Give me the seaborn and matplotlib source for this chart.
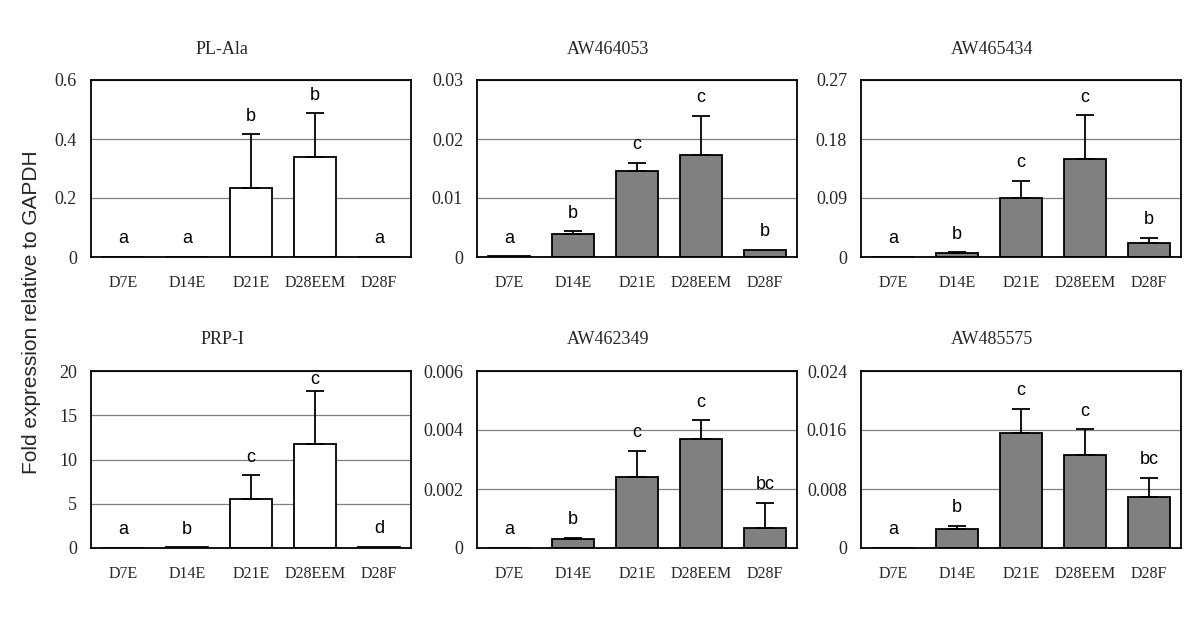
import numpy as np
import pandas as pd
import matplotlib
matplotlib.use("Agg")
import matplotlib.pyplot as plt
import seaborn as sns

sns.set_style("white")

categories = ["D7E", "D14E", "D21E", "D28EEM", "D28F"]
genes = ["PL-Ala", "AW464053", "AW465434", "PRP-I", "AW462349", "AW485575"]

pl_ala_mean = [0.0005, 0.001, 0.235, 0.340, 0.001]
pl_ala_err = [0, 0, 0.181, 0.148, 0]
pl_ala_letters = ["a", "a", "b", "b", "a"]

aw464053_mean = [0.0001, 0.0039, 0.0145, 0.0173, 0.0012]
aw464053_err = [0, 0.0005, 0.0015, 0.0066, 0]
aw464053_letters = ["a", "b", "c", "c", "b"]

aw465434_mean = [0.0005, 0.006, 0.0894, 0.150, 0.021]
aw465434_err = [0, 0.001, 0.027, 0.066, 0.0086]
aw465434_letters = ["a", "b", "c", "c", "b"]

prp_i_mean = [0.01, 0.06, 5.56, 11.73, 0.12]
prp_i_err = [0, 0, 2.67, 6.02, 0]
prp_i_letters = ["a", "b", "c", "c", "d"]

aw462349_mean = [0.00001, 0.00029, 0.0024, 0.0037, 0.00068]
aw462349_err = [0, 0.00005, 0.00089, 0.00063, 0.00085]
aw462349_letters = ["a", "b", "c", "c", "bc"]

aw485575_mean = [0.00005, 0.00253, 0.0156, 0.01257, 0.0069]
aw485575_err = [0, 0.0005, 0.0033, 0.0035, 0.0026]
aw485575_letters = ["a", "b", "c", "c", "bc"]

yticks_pl_ala = [0, 0.2, 0.4, 0.6]
yticks_aw464053 = [0, 0.01, 0.02, 0.03]
yticks_aw465434 = [0, 0.09, 0.18, 0.27]
yticks_prp_i = [0, 5, 10, 15, 20]
yticks_aw462349 = [0, 0.002, 0.004, 0.006]
yticks_aw485575 = [0, 0.008, 0.016, 0.024]

ylabels_pl_ala = ["0", "0.2", "0.4", "0.6"]
ylabels_aw464053 = ["0", "0.01", "0.02", "0.03"]
ylabels_aw465434 = ["0", "0.09", "0.18", "0.27"]
ylabels_prp_i = ["0", "5", "10", "15", "20"]
ylabels_aw462349 = ["0", "0.002", "0.004", "0.006"]
ylabels_aw485575 = ["0", "0.008", "0.016", "0.024"]

panels = [
    (pl_ala_mean, pl_ala_err, pl_ala_letters, yticks_pl_ala, ylabels_pl_ala, "white"),
    (aw464053_mean, aw464053_err, aw464053_letters, yticks_aw464053, ylabels_aw464053, "#808080"),
    (aw465434_mean, aw465434_err, aw465434_letters, yticks_aw465434, ylabels_aw465434, "#808080"),
    (prp_i_mean, prp_i_err, prp_i_letters, yticks_prp_i, ylabels_prp_i, "white"),
    (aw462349_mean, aw462349_err, aw462349_letters, yticks_aw462349, ylabels_aw462349, "#808080"),
    (aw485575_mean, aw485575_err, aw485575_letters, yticks_aw485575, ylabels_aw485575, "#808080"),
]

W, H = 1200, 624
fig = plt.figure(figsize=(W / 100, H / 100), dpi=100)

lefts = [91, 477, 861]
width_px = 320
rows = [(80, 257), (371, 548)]

serif = "Liberation Serif"
sans = "Liberation Sans"

for i, (gene, (means, errs, letters, yt, yl, color)) in enumerate(zip(genes, panels)):
    r, c = divmod(i, 3)
    top, bot = rows[r]
    hpx = bot - top
    ax = fig.add_axes([lefts[c] / W, 1 - bot / H, width_px / W, hpx / H])
    df = pd.DataFrame({"stage": categories, "value": means})
    sns.barplot(data=df, x="stage", y="value", order=categories, color=color,
                saturation=1, edgecolor="black", linewidth=1.3, width=0.66,
                errorbar=None, ax=ax, zorder=2)
    idx = [k for k in range(5) if errs[k] > 0]
    if idx:
        ax.errorbar(idx, [means[k] for k in idx],
                    yerr=[[0] * len(idx), [errs[k] for k in idx]],
                    fmt="none", ecolor="black", elinewidth=1.3, capsize=6.5,
                    capthick=1.3, zorder=3)
    ymax = yt[-1]
    for k in range(5):
        top_val = means[k] + errs[k]
        avail = (ymax - top_val) / ymax * hpx - 9
        off = min(18, avail)
        ax.annotate(letters[k], xy=(k, top_val), xytext=(0, off),
                    textcoords="offset pixels", ha="center", va="center",
                    fontsize=13, fontfamily=sans, color="black")
    ax.set_xlim(-0.5, 4.5)
    ax.set_ylim(yt[0], ymax)
    ax.set_yticks(yt)
    ax.set_yticklabels(yl, fontfamily=serif, fontsize=13)
    ax.set_xticks(range(5))
    ax.set_xticklabels(categories, fontfamily=serif, fontsize=11.5)
    ax.set_xticks([0.5, 1.5, 2.5, 3.5], minor=True)
    ax.tick_params(axis="x", which="major", length=0, pad=13)
    ax.tick_params(axis="x", which="minor", direction="in", length=4.5, width=1, color="black")
    ax.tick_params(axis="y", direction="in", length=4, width=1, color="black", pad=10)
    ax.set_xlabel("")
    ax.set_ylabel("")
    ax.yaxis.grid(True, color="#808080", linewidth=0.9)
    ax.xaxis.grid(False)
    ax.set_axisbelow(True)
    for s in ax.spines.values():
        s.set_visible(True)
        s.set_color("black")
        s.set_linewidth(1.3)
    ax.text(0.41, 1 + 31 / hpx, gene, transform=ax.transAxes,
            ha="center", va="center", fontsize=13, fontfamily=serif)

fig.text(32 / W, 0.5, "Fold expression relative to GAPDH", rotation=90,
         ha="center", va="center", fontsize=15, fontfamily=sans)

fig.savefig("out.png", dpi=100)
